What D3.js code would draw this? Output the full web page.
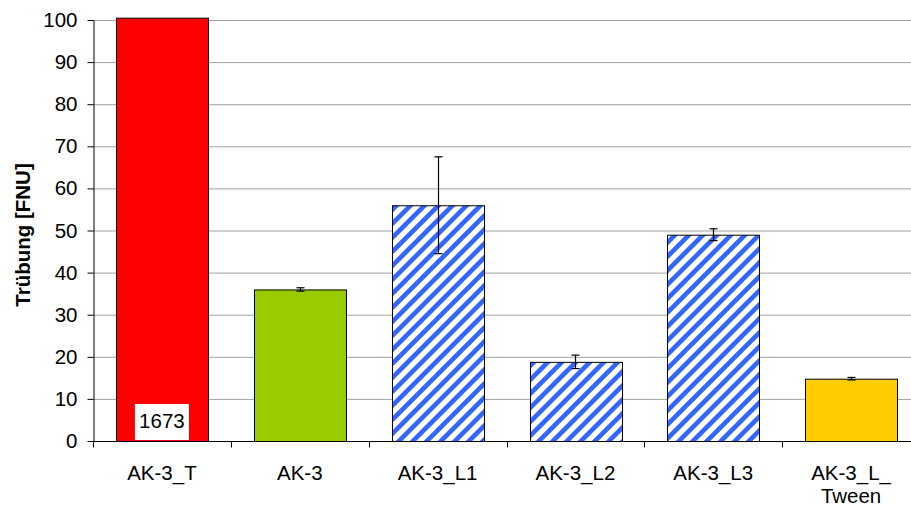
<!DOCTYPE html>
<html><head><meta charset="utf-8">
<script src="https://cdn.jsdelivr.net/npm/d3@7"></script>
<style>body{margin:0;background:#fff}svg{display:block;font-family:Arial,"Liberation Sans",sans-serif}</style>
</head><body><svg id="c" width="911" height="506"></svg>
<script>
const categories = ["AK-3_T", "AK-3", "AK-3_L1", "AK-3_L2", "AK-3_L3", "AK-3_L_\nTween"];
const values = [1673, 36, 56, 18.8, 49, 14.8];
const errors = [null, 0.4, 11.5, 1.6, 1.4, 0.3];
const fills = ["#FF0000", "#99CC00", "hatch", "hatch", "hatch", "#FFCC00"];
const yTicks = [0, 10, 20, 30, 40, 50, 60, 70, 80, 90, 100];
const valueLabels = ["1673", null, null, null, null, null];

const svg = d3.select("#c");
const mLeft = 93, mRight = 920, mTop = 20, mBottom = 441;
const x = d3.scaleBand().domain(categories).range([mLeft, mRight]).paddingInner(0.335).paddingOuter(0.1675);
const xb = d3.scaleBand().domain(categories).range([mLeft, mRight]);
const y = d3.scaleLinear().domain([0, 100]).range([mBottom, mTop]);

const defs = svg.append("defs");
const pat = defs.append("pattern").attr("id", "hatch").attr("patternUnits", "userSpaceOnUse")
  .attr("width", 14).attr("height", 14);
pat.append("rect").attr("width", 14).attr("height", 14).attr("fill", "#fff");
pat.append("path").attr("d", "M-2,2 L2,-2 M0,14 L14,0 M12,16 L16,12")
  .attr("stroke", "#3366FF").attr("stroke-width", 4.6);

// gridlines
svg.append("g").selectAll("line").data(yTicks.filter(d => d > 0)).join("line")
  .attr("x1", mLeft).attr("x2", 911).attr("y1", d => y(d) + 0.5).attr("y2", d => y(d) + 0.5)
  .attr("stroke", "#A0A0A0").attr("stroke-width", 1);

// bars
const clipTop = 100.55;
svg.append("g").selectAll("rect").data(categories).join("rect")
  .attr("x", d => Math.round(x(d)) + 0.5)
  .attr("width", Math.round(x.bandwidth()))
  .attr("y", (d, i) => y(Math.min(values[i], clipTop)) + 0.5)
  .attr("height", (d, i) => y(0) - y(Math.min(values[i], clipTop)))
  .attr("fill", (d, i) => fills[i] === "hatch" ? "url(#hatch)" : fills[i])
  .attr("stroke", "#000").attr("stroke-width", 1);

// error bars
const eb = svg.append("g").attr("stroke", "#000").attr("stroke-width", 1.2);
categories.forEach((c, i) => {
  if (errors[i] == null) return;
  const cx = Math.round(x(c) + x.bandwidth() / 2) + 0.5;
  const y1 = y(values[i] + errors[i]), y2 = y(values[i] - errors[i]);
  eb.append("line").attr("x1", cx).attr("x2", cx).attr("y1", y1).attr("y2", y2);
  eb.append("line").attr("x1", cx - 4).attr("x2", cx + 4).attr("y1", y1).attr("y2", y1);
  eb.append("line").attr("x1", cx - 4).attr("x2", cx + 4).attr("y1", y2).attr("y2", y2);
});

// value labels
categories.forEach((c, i) => {
  if (!valueLabels[i]) return;
  const cx = x(c) + x.bandwidth() / 2;
  svg.append("rect").attr("x", cx - 27).attr("y", mBottom - 37).attr("width", 54).attr("height", 36).attr("fill", "#fff");
  svg.append("text").attr("x", cx).attr("y", mBottom - 13).attr("text-anchor", "middle")
    .attr("font-size", 20.5).attr("fill", "#000").text(valueLabels[i]);
});

// y axis
const ya = svg.append("g").attr("transform", `translate(${mLeft + 0.5},0)`)
  .call(d3.axisLeft(y).tickValues(yTicks).tickSize(6).tickPadding(10).tickSizeOuter(0));
ya.select(".domain").attr("stroke", "#000");
ya.selectAll(".tick line").attr("stroke", "#000");
ya.selectAll(".tick text").attr("font-size", 20.5).attr("font-family", "Arial, 'Liberation Sans', sans-serif").attr("fill", "#000");

// x axis
const xa = svg.append("g").attr("transform", `translate(0,${mBottom + 0.5})`);
xa.append("line").attr("x1", mLeft).attr("x2", 911).attr("stroke", "#000");
xa.selectAll("line.t").data(d3.range(0, categories.length + 1)).join("line").attr("class", "t")
  .attr("x1", i => Math.round(mLeft + i * xb.bandwidth()) + 0.5)
  .attr("x2", i => Math.round(mLeft + i * xb.bandwidth()) + 0.5)
  .attr("y1", 0).attr("y2", 6).attr("stroke", "#000");
categories.forEach(c => {
  const lines = c.split("\n");
  const t = xa.append("text").attr("text-anchor", "middle").attr("font-size", 20.5).attr("fill", "#000");
  lines.forEach((l, k) => t.append("tspan").attr("x", x(c) + x.bandwidth() / 2).attr("y", 38.5 + k * 23).text(l));
});

// y title
svg.append("text").attr("transform", `translate(30,235) rotate(-90)`)
  .attr("text-anchor", "middle").attr("font-size", 20.5).attr("font-weight", "bold").attr("fill", "#000")
  .text("Trübung [FNU]");
</script></body></html>
